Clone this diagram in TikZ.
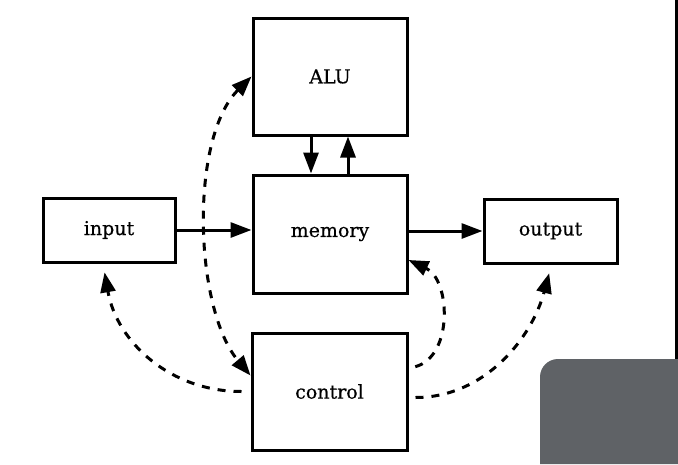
\documentclass[tikz,border=0pt]{standalone}
\usepackage{fontspec}
\setmainfont{DejaVu Serif}
\newfontfamily\diagfont[FakeBold=0.5]{DejaVu Serif}
\usetikzlibrary{arrows.meta}
\definecolor{panelgray}{HTML}{5F6266}
\begin{document}
\begin{tikzpicture}[x=1pt,y=-1pt,
  unit/.style={draw=black,line width=3pt,fill=white,inner sep=0pt,font=\diagfont\fontsize{19}{22}\selectfont},
  flow/.style={line width=3pt,-{Triangle[length=21pt,width=15pt]}},
  ctrl/.style={line width=3pt,dash pattern=on 8pt off 8pt},
  tipe/.style={-{Triangle[length=20pt,width=15pt]}},
  tips/.style={{Triangle[length=20pt,width=15pt]}-{Triangle[length=20pt,width=15pt]}}]
\useasboundingbox (0,0) rectangle (678,464);
\fill[white] (0,0) rectangle (678,464);
% nodes
\node[unit,minimum width=154pt,minimum height=117pt] (alu) at (330,76.5) {ALU};
\node[unit,minimum width=154pt,minimum height=118pt] (mem) at (330,234) {memory};
\node[unit,minimum width=132pt,minimum height=64pt] (in) at (109,230) {input};
\node[unit,minimum width=133pt,minimum height=64pt] (out) at (550.5,231) {output};
\node[unit,minimum width=155pt,minimum height=117pt] (ctl) at (329.5,391.5) {control};
% solid connectors
\draw[flow] (in.east) -- (mem.west |- in.east);
\draw[flow] (mem.east |- out.west) -- (out.west);
\draw[flow] ([xshift=-19pt]alu.south) -- ([xshift=-19pt]mem.north);
\draw[flow] ([xshift=18pt]mem.north) -- ([xshift=18pt]alu.south);
% dashed control connectors
\draw[ctrl,tips] (alu.west) to[out=225,in=130,looseness=0.75] ([yshift=16pt]ctl.west);
\draw[ctrl,tipe,shorten <=9pt,shorten >=9pt] (ctl.west) to[out=180,in=280,looseness=1.05] ([xshift=-6pt]in.south);
\draw[ctrl,tipe,shorten <=7pt] ([yshift=23pt]ctl.east) to[out=15,in=-25,looseness=1.1] ([yshift=-26pt]mem.east);
\draw[ctrl,tipe,shorten <=7pt,shorten >=9pt] ([yshift=-6pt]ctl.east) to[out=0,in=255] ([xshift=1pt]out.south);
% frame decorations
\fill[black] (675,0) rectangle (678,359);
\fill[panelgray] (540,464) [rounded corners=18pt] -- (540,359) [sharp corners] -- (678,359) -- (678,464) -- cycle;
\end{tikzpicture}
\end{document}
